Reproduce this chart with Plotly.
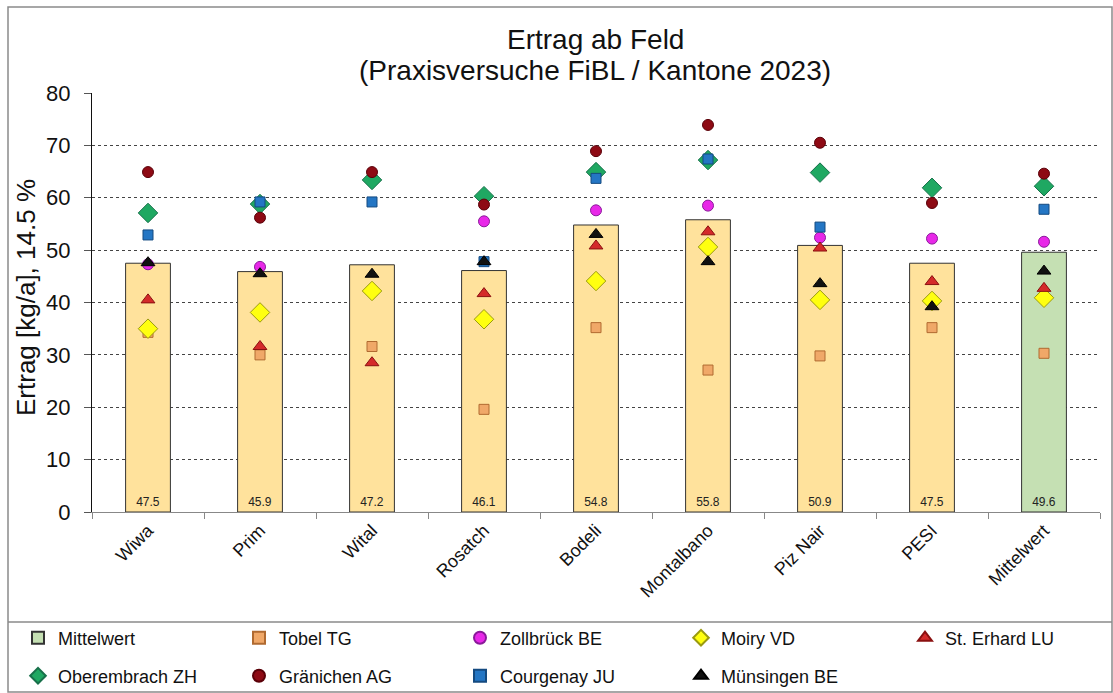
import plotly.graph_objects as go

categories = ["Wiwa", "Prim", "Wital", "Rosatch", "Bodeli", "Montalbano", "Piz Nair", "PESI", "Mittelwert"]
bar_values = [47.5, 45.9, 47.2, 46.1, 54.8, 55.8, 50.9, 47.5, 49.6]

tobel = [34.3, 30.0, 31.6, 19.6, 35.2, 27.1, 29.8, 35.2, 30.3]
zollbrueck = [47.3, 46.8, 42.0, 55.5, 57.6, 58.5, 52.4, 52.2, 51.6]
moiry = [35.0, 38.1, 42.2, 36.8, 44.1, 50.6, 40.5, 40.3, 40.9]
erhard = [40.5, 31.6, 28.5, 41.7, 50.8, 53.5, 50.4, 44.0, 42.7]
oberembrach = [57.1, 58.8, 63.4, 60.3, 64.9, 67.2, 64.8, 61.9, 62.2]
graenichen = [64.9, 56.2, 64.9, 58.7, 68.9, 73.9, 70.5, 59.0, 64.6]
courgenay = [52.9, 59.2, 59.2, 47.8, 63.7, 67.4, 54.4, None, 57.8]
muensingen = [47.6, 45.5, 45.4, 47.8, 53.0, 47.8, 43.6, 39.2, 46.0]

title_line1 = "Ertrag ab Feld"
title_line2 = "(Praxisversuche FiBL / Kantone 2023)"
y_title = "Ertrag [kg/a], 14.5 %"

FONT = "Liberation Sans, Arial, sans-serif"

fig = go.Figure()

fig.add_trace(go.Bar(
    x=categories[:-1], y=bar_values[:-1], width=0.4,
    marker=dict(color="#FFE29C", line=dict(color="#333333", width=1)),
    text=[f"{v:.1f}" for v in bar_values[:-1]], textposition="inside",
    insidetextanchor="start", textangle=0,
    textfont=dict(size=12, color="#222222", family=FONT),
    showlegend=False, hoverinfo="skip"))
fig.add_trace(go.Bar(
    x=categories[-1:], y=bar_values[-1:], width=0.4, name="Mittelwert",
    marker=dict(color="#C5E0B3", line=dict(color="#333333", width=1)),
    text=[f"{v:.1f}" for v in bar_values[-1:]], textposition="inside",
    insidetextanchor="start", textangle=0,
    textfont=dict(size=12, color="#222222", family=FONT),
    legend="legend"))

series = [
    ("Tobel TG", tobel, "square", 10, "#F0A868", "#B06A30", "legend"),
    ("Zollbrück BE", zollbrueck, "circle", 11, "#E828E8", "#8A1A9A", "legend"),
    ("Moiry VD", moiry, "diamond", 15, "#FFFF10", "#9A9A10", "legend"),
    ("St. Erhard LU", erhard, "triangle-up", 12, "#D42A2A", "#8A1010", "legend3"),
    ("Oberembrach ZH", oberembrach, "diamond", 15, "#1FA862", "#17704A", "legend2"),
    ("Gränichen AG", graenichen, "circle", 11, "#8E0A14", "#5A0008", "legend2"),
    ("Courgenay JU", courgenay, "square", 10, "#2476C4", "#144A80", "legend2"),
    ("Münsingen BE", muensingen, "triangle-up", 12, "#111111", "#000000", "legend2"),
]
for name, vals, sym, size, col, lcol, lg in series:
    fig.add_trace(go.Scatter(
        x=categories, y=vals, mode="markers", name=name, legend=lg,
        marker=dict(symbol=sym, size=size, color=col, line=dict(color=lcol, width=1))))

def px_x(p):
    return (p - 92) / 1008.0

def px_y(p):
    return (512 - p) / 419.0

shapes = [
    dict(type="rect", xref="paper", yref="paper", x0=px_x(8), x1=px_x(1112), y0=px_y(692), y1=px_y(7),
         line=dict(color="#8a8a8a", width=1.5), fillcolor="rgba(0,0,0,0)", layer="below"),
    dict(type="line", xref="paper", yref="paper", x0=px_x(8), x1=px_x(1112), y0=px_y(622), y1=px_y(622),
         line=dict(color="#8a8a8a", width=1.5)),
]

annotations = [
    dict(text=title_line1, xref="paper", yref="paper", x=px_x(595), y=px_y(40),
         xanchor="center", yanchor="middle", showarrow=False,
         font=dict(size=28, family=FONT, color="#111111")),
    dict(text=title_line2, xref="paper", yref="paper", x=px_x(595), y=px_y(70),
         xanchor="center", yanchor="middle", showarrow=False,
         font=dict(size=28, family=FONT, color="#111111")),
    dict(text=y_title, xref="paper", yref="paper", x=px_x(26), y=px_y(298),
         xanchor="center", yanchor="middle", showarrow=False, textangle=-90,
         font=dict(size=26, family=FONT, color="#111111")),
]

legend_common = dict(orientation="h", xanchor="left", yanchor="middle",
                     entrywidth=176, font=dict(size=18, family=FONT, color="#111111"),
                     itemwidth=30, itemsizing="constant",
                     bgcolor="rgba(0,0,0,0)", traceorder="normal")

fig.update_layout(
    width=1113, height=693,
    margin=dict(l=92, r=13, t=93, b=181, autoexpand=False),
    paper_bgcolor="white", plot_bgcolor="white",
    barmode="overlay",
    font=dict(family=FONT, color="#111111"),
    annotations=annotations,
    xaxis=dict(type="category", categoryorder="array", categoryarray=categories,
               tickangle=-45, tickfont=dict(size=18, family=FONT, color="#111111"),
               showline=True, linecolor="#888888", linewidth=1,
               ticks="outside", tickson="boundaries", ticklen=6, tickcolor="#888888",
               showgrid=False, range=[-0.5, 8.5], automargin=False),
    yaxis=dict(range=[0, 80], dtick=10, tickfont=dict(size=22, family=FONT, color="#111111"),
               showline=True, linecolor="#111111", linewidth=1.2,
               ticks="outside", ticklen=7, tickcolor="#555555", ticklabelstandoff=9,
               showgrid=True, gridcolor="#444444", gridwidth=1, griddash="dot",
               zeroline=False, automargin=False),
    legend=dict(x=px_x(18), y=px_y(638), **legend_common),
    legend2=dict(x=px_x(18), y=px_y(676), **legend_common),
    legend3=dict(x=px_x(905), y=px_y(638), **legend_common),
    shapes=shapes,
)

fig.write_html("out.html", config={"displayModeBar": False},
               post_script="document.body.style.margin='0';document.body.style.padding='0';document.body.style.overflow='hidden';")
